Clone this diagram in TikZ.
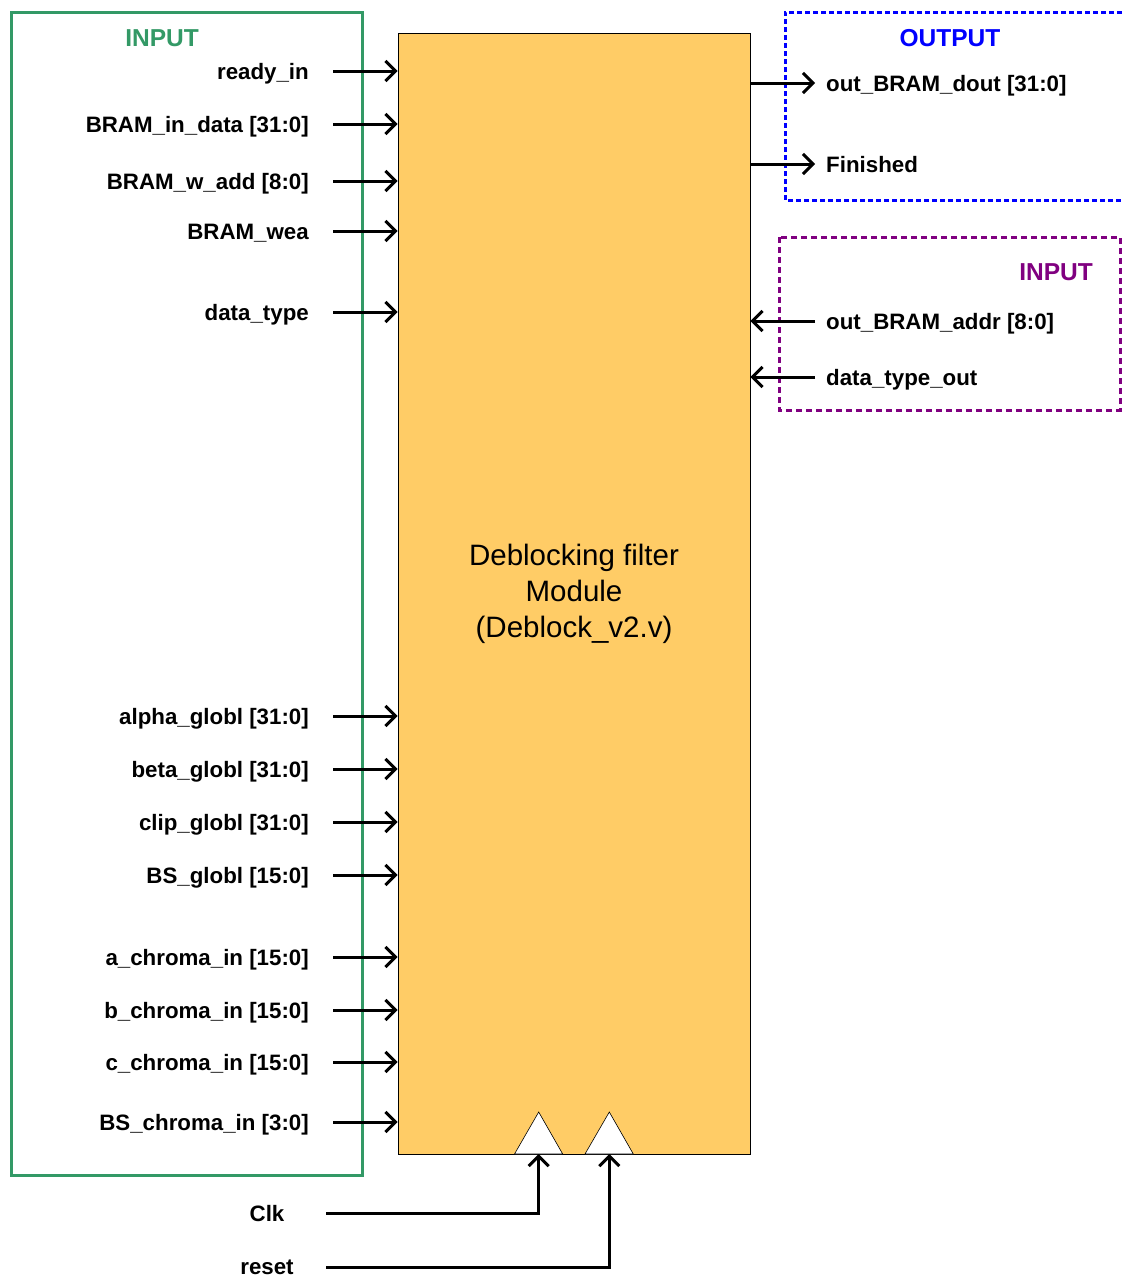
\documentclass[tikz,border=0pt]{standalone}
\usepackage{fontspec}
\setmainfont{Liberation Sans}
\usetikzlibrary{positioning, arrows.meta}
\definecolor{inGreen}{RGB}{51,153,102}
\definecolor{blockFill}{RGB}{255,204,102}
\definecolor{outBlue}{RGB}{0,0,255}
\definecolor{inPurple}{RGB}{128,0,128}

\begin{document}
\begin{tikzpicture}[
  x=1pt, y=-1pt,
  font=\fontsize{22.3}{26}\selectfont\bfseries,
  >={Straight Barb[length=10pt, width=20pt]},
  port/.style={anchor=east, inner sep=0pt, text height=16pt, text depth=0pt},
  oport/.style={port, anchor=west},
  title/.style={inner sep=0pt, text height=17.5pt, text depth=0pt,
    font=\fontsize{24.5}{28}\selectfont\bfseries},
  block/.style={draw, fill=blockFill, line width=0.8pt, minimum width=352pt,
    minimum height=1121pt, align=center, font=\fontsize{29.5}{36}\selectfont},
  sig/.style={->, line width=3pt},
  grp/.style={line width=3pt},
  clkmark/.style={draw, fill=white, line width=0.6pt}
]
\useasboundingbox (0,0) rectangle (1122,1277);

% Groups
\draw[grp, inGreen] (11,12) rectangle (362,1175);
\draw[grp, outBlue, dash pattern=on 5pt off 3pt] (1122,12) -| (785,200) -- (1122,200);
\draw[grp, inPurple, dash pattern=on 6pt off 4pt] (779,237) rectangle (1120,410);

\node[title, text=inGreen] (tIn) at (162,38) {INPUT};
\node[title, text=outBlue] (tOut) at (950,38) {OUTPUT};
\node[title, text=inPurple] (tIn2) at (1056,272) {INPUT};

% Module
\node[block] (blk) at (574,593.5) {\raisebox{-3pt}{\parbox{300pt}{\centering Deblocking filter\\Module\\(Deblock\_v2.v)}}};

% Clock marks
\draw[clkmark] (514.5,1154) -- (538.7,1112) -- (562.7,1154) -- cycle;
\draw[clkmark] (585,1154) -- (609.3,1112) -- (633.3,1154) -- cycle;
\coordinate (clkT) at (538.7,1154);
\coordinate (rstT) at (609.3,1154);

% Inputs (left)
\node[port] (pRdy) at (309,71) {ready\_in};
\node[port] (pData) at (309,124) {BRAM\_in\_data [31:0]};
\node[port] (pWadd) at (309,181) {BRAM\_w\_add [8:0]};
\node[port] (pWea) at (309,231) {BRAM\_wea};
\node[port] (pType) at (309,312) {data\_type};
\node[port] (pAlpha) at (309,716) {alpha\_globl [31:0]};
\node[port] (pBeta) at (309,769) {beta\_globl [31:0]};
\node[port] (pClip) at (309,822) {clip\_globl [31:0]};
\node[port] (pBS) at (309,875) {BS\_globl [15:0]};
\node[port] (pAch) at (309,957) {a\_chroma\_in [15:0]};
\node[port] (pBch) at (309,1010) {b\_chroma\_in [15:0]};
\node[port] (pCch) at (309,1062) {c\_chroma\_in [15:0]};
\node[port] (pBSch) at (309,1122) {BS\_chroma\_in [3:0]};

\foreach \p in {pRdy,pData,pWadd,pWea,pType,pAlpha,pBeta,pClip,pBS,pAch,pBch,pCch,pBSch}
  \draw[sig] ([xshift=24pt]\p.east) -- (\p.east -| blk.west);

% Outputs
\node[oport] (oDout) at (826,83) {out\_BRAM\_dout [31:0]};
\node[oport] (oFin) at (826,164) {Finished};
\draw[sig] (oDout.west -| blk.east) -- ([xshift=-11pt]oDout.west);
\draw[sig] (oFin.west -| blk.east) -- ([xshift=-11pt]oFin.west);

% Inputs (right)
\node[oport] (iAddr) at (826,321) {out\_BRAM\_addr [8:0]};
\node[oport] (iTypeOut) at (826,377) {data\_type\_out};
\draw[sig] ([xshift=-11pt]iAddr.west) -- (iAddr.west -| blk.east);
\draw[sig] ([xshift=-11pt]iTypeOut.west) -- (iTypeOut.west -| blk.east);

% Clock and reset
\node[port, anchor=center] (pClk) at (267,1213) {Clk};
\node[port, anchor=center] (pRst) at (267,1266) {reset};
\coordinate (clkIn) at (326,1213);
\coordinate (rstIn) at (326,1267);
\draw[sig] (clkIn) -| (clkT);
\draw[sig] (rstIn) -| (rstT);

\end{tikzpicture}
\end{document}
